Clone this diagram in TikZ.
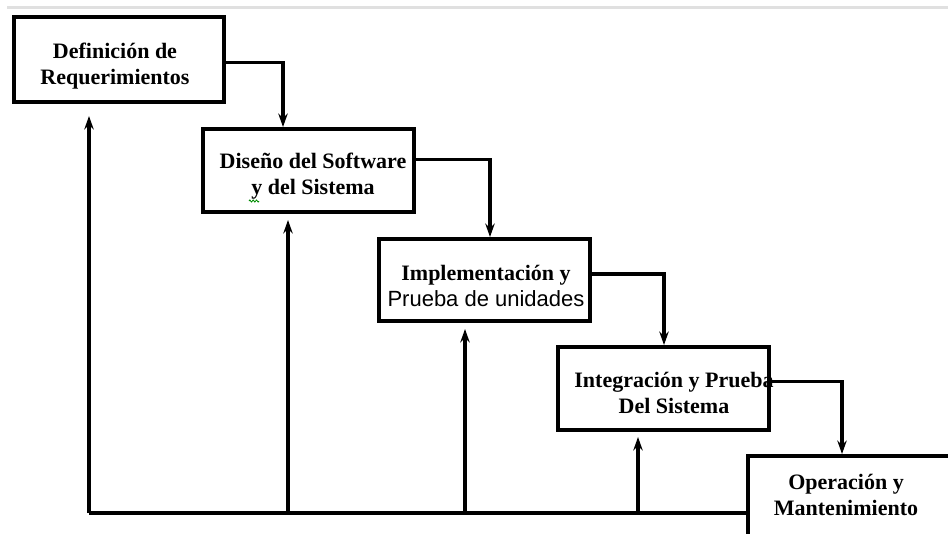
\documentclass[tikz,border=0pt]{standalone}
\usepackage{fontspec}
\setmainfont{Liberation Serif}
\newfontfamily\arialf{Liberation Sans}
\usetikzlibrary{arrows.meta,calc,decorations.pathmorphing}
\begin{document}
\begin{tikzpicture}[x=0.75pt,y=-0.75pt,
  stagebox/.style={draw=black,line width=3pt,fill=white,inner sep=0pt,anchor=north west},
  stagetxt/.style={font=\fontsize{16.5}{19.5}\selectfont\bfseries,align=center,inner sep=0pt},
  flowarrow/.style={draw=black,line width=2.6pt,-{Stealth[length=10pt,width=7pt]}},
  bottomline/.style={draw=black,line width=2.6pt}]
\useasboundingbox (0,0) rectangle (948,533);
\fill[white] (0,0) rectangle (948,533);
\fill[black!12] (7,6) rectangle (948,9);
% boxes (sizes in px * 0.75 = pt)
\node[stagebox,minimum width=157.5pt,minimum height=63.75pt] (b1) at (12,15) {};
\node[stagebox,minimum width=158.25pt,minimum height=62.25pt] (b2) at (201,127) {};
\node[stagebox,minimum width=158.25pt,minimum height=61.5pt] (b3) at (377,237) {};
\node[stagebox,minimum width=158.25pt,minimum height=62.25pt] (b4) at (556,345) {};
\node[stagebox,minimum width=165pt,minimum height=75pt] (b5) at (746,454) {};
% texts
\node[stagetxt] (t1) at (115,66) {Definición de\\Requerimientos};
\node[stagetxt] (t2) at (313,176) {Diseño del Software\\y del Sistema};
\node[stagetxt,font=\fontsize{16.5}{19.5}\selectfont] (t3) at (486,286) {\bfseries Implementación y\\\arialf Prueba de unidades};
\node[stagetxt] (t4) at (674,393) {Integración y Prueba\\Del Sistema};
\node[stagetxt] (t5) at (846,495) {Operación y\\Mantenimiento};
\draw[green!55!black,line width=0.6pt,decorate,decoration={zigzag,segment length=2.5,amplitude=0.8}] (249,201) -- (259,201);
% flow arrows
\draw[flowarrow] ($(b1.east)+(0,3)$) -| ($(b2.north west)+(82,0)$);
\draw[flowarrow] ($(b2.east)+(0,-11)$) -| ($(b3.north west)+(113,0)$);
\draw[flowarrow] ($(b3.east)+(0,-6)$) -| ($(b4.north west)+(108,0)$);
\draw[flowarrow] ($(b4.east)+(0,-7)$) -| ($(b5.north west)+(96,0)$);
% feedback
\coordinate (c1) at (89,513);
\coordinate (c2) at (288,513);
\coordinate (c3) at (465,513);
\coordinate (c4) at (638,513);
\draw[bottomline] (c1) -- (c1 -| b5.west);
\draw[flowarrow] (c1) -- ($(b1.south -| c1)+(0,12)$);
\draw[flowarrow] (c2) -- ($(b2.south -| c2)+(0,6)$);
\draw[flowarrow] (c3) -- ($(b3.south -| c3)+(0,6)$);
\draw[flowarrow] (c4) -- ($(b4.south -| c4)+(0,5)$);
\end{tikzpicture}
\end{document}
